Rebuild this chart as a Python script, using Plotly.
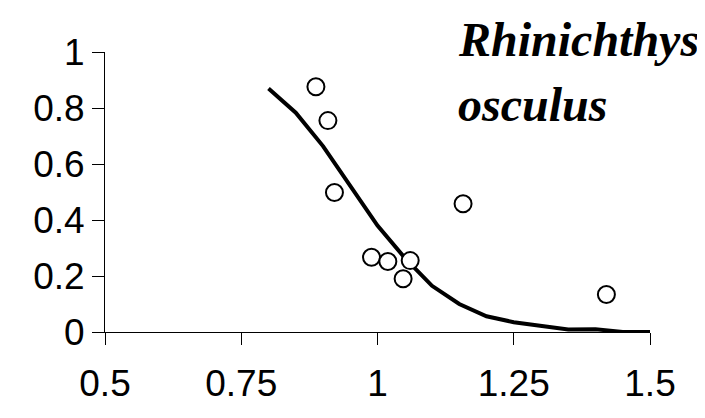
import plotly.graph_objects as go

# Observed data points
obs_x = [0.887, 0.909, 0.921, 0.989, 1.019, 1.047, 1.06, 1.157, 1.42]
obs_y = [0.876, 0.755, 0.498, 0.267, 0.252, 0.19, 0.255, 0.458, 0.134]

# Fitted curve
fit_x = [0.8, 0.85, 0.9, 0.95, 1.0, 1.05, 1.1, 1.15, 1.2, 1.25, 1.3, 1.35, 1.4, 1.45, 1.5]
fit_y = [0.87, 0.783, 0.664, 0.52, 0.38, 0.265, 0.165, 0.10, 0.056, 0.035, 0.022, 0.009, 0.01, 0.0, 0.0]

x_ticks = [0.5, 0.75, 1, 1.25, 1.5]
x_tick_labels = ["0.5", "0.75", "1", "1.25", "1.5"]
y_ticks = [0, 0.2, 0.4, 0.6, 0.8, 1]
y_tick_labels = ["0", "0.2", "0.4", "0.6", "0.8", "1"]

title_lines = ["Rhinichthys", "osculus"]

fig = go.Figure()
fig.add_trace(go.Scatter(x=fit_x, y=fit_y, mode="lines",
                         line=dict(color="black", width=4), cliponaxis=False,
                         showlegend=False))
fig.add_trace(go.Scatter(x=obs_x, y=obs_y, mode="markers",
                         marker=dict(size=17, color="white", symbol="circle",
                                     line=dict(color="black", width=2)),
                         cliponaxis=False, showlegend=False))

W, H = 705, 418
L, R, T, B = 96.5, 62.5, 44, 93.5
pw, ph = W - L - R, H - T - B

def px2x(px):
    return (px - L) / pw

def py2y(py):
    return (H - B - py) / ph

tick_font = dict(family="Liberation Sans, Arial, sans-serif", size=37, color="black")

fig.update_layout(
    width=W, height=H,
    margin=dict(l=L, r=R, t=T, b=B, pad=0),
    paper_bgcolor="white", plot_bgcolor="white",
    xaxis=dict(range=[0.5, 1.5], tickvals=x_ticks, ticktext=x_tick_labels,
               showgrid=False, zeroline=False, showline=True, linecolor="black",
               linewidth=1, ticks="outside", ticklen=12, tickcolor="black",
               tickwidth=1, tickfont=tick_font, ticklabelstandoff=7,
               automargin=False),
    yaxis=dict(range=[0, 1], tickvals=y_ticks, ticktext=y_tick_labels,
               showgrid=False, zeroline=False, showline=True, linecolor="black",
               linewidth=1, ticks="outside", ticklen=12, tickcolor="black",
               tickwidth=1, tickfont=tick_font, ticksuffix="\u00a0\u00a0",
               automargin=False),
)

title_font = dict(family="Liberation Serif, Times New Roman, serif", size=48, color="black")
title_y = [31, 97]
for line, ty in zip(title_lines, title_y):
    fig.add_annotation(text="<b><i>%s</i></b>" % line, xref="paper", yref="paper",
                       x=px2x(448), y=py2y(ty), xanchor="left", yanchor="middle",
                       showarrow=False, font=title_font)

fig.write_html("out.html")
